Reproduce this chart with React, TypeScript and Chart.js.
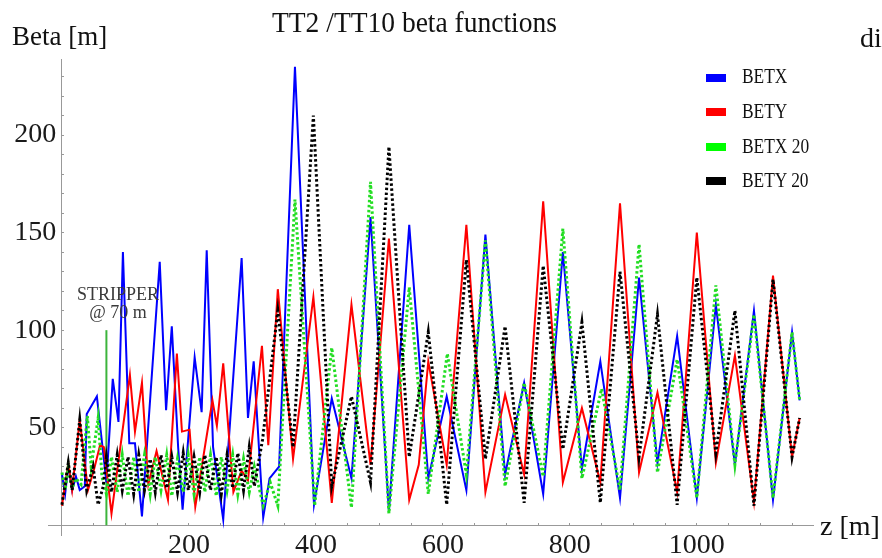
import React, { useEffect, useRef } from 'react';
import { Chart, registerables } from 'chart.js';

Chart.register(...registerables);

// ---- data (z in metres, beta in metres) ----
const betxZ = [0, 5, 10, 16, 22, 28, 36, 39, 55, 70, 80, 89, 96, 106, 115, 126, 154, 164, 173, 183, 190, 209, 220, 228, 238, 254, 283, 293, 302, 317, 327, 342, 367,
  397, 425, 456, 486, 515, 547, 577, 606, 637, 667, 698, 728, 758, 789, 819, 848, 879, 909, 938, 969, 1000, 1030, 1060, 1090, 1120, 1150, 1162];
const betxV = [26, 16, 31, 18, 25, 18, 20, 57, 66, 22, 75, 53, 140, 42, 42, 4.5, 135, 59, 102, 40, 8, 86, 58, 141, 40, 3, 137, 55, 84, 4, 24, 30, 235,
  10.5, 65, 24, 158, 7, 154, 24, 66, 18, 149, 26, 73, 16, 140, 29, 84, 14, 127, 32, 97, 14, 113, 31, 110, 13, 99, 64];

const betyZ = [0, 10, 16, 28, 41, 50, 60, 66, 78, 107, 115, 126, 136, 149, 167, 181, 189, 201, 210, 237, 244, 254, 270, 283, 293, 315, 325, 340, 364,
  396, 425, 456, 486, 515, 547, 562, 577, 606, 637, 667, 698, 728, 758, 789, 819, 848, 879, 909, 938, 969, 1000, 1030, 1060, 1090, 1120, 1150, 1162];
const betyV = [10, 32, 18, 54, 18, 28, 41, 40, 6, 77, 48, 73, 21, 38, 13, 88, 48, 49, 9.5, 64, 51, 83, 17, 28, 23, 92, 41, 121, 34,
  117, 11.5, 113, 31, 147, 13, 31, 84, 31, 154, 17, 67, 26, 166, 22, 60, 22, 165, 27, 68, 17, 150, 32, 87, 12, 128, 35, 55];

const betx20Z = [0, 5, 10, 16, 22, 30, 40, 46, 57, 63,
  70, 78, 87, 95, 104, 113, 121, 130, 139, 147, 156, 165, 173, 182, 191, 199, 208, 217, 225, 234, 243, 251, 260, 269, 277, 286, 295, 303,
  317, 328, 340, 367,
  398, 425, 456, 486, 515, 547, 577, 607, 637, 667, 698, 728, 758, 789, 819, 850, 879, 909, 938, 969, 1000, 1030, 1060, 1090, 1120, 1150, 1162];
const betx20V = [27, 18, 30, 19, 24, 21, 56, 30, 55, 25,
  16, 35, 17, 36, 15, 35, 17, 36, 16, 35, 18, 36, 15, 34, 17, 36, 16, 35, 17, 36, 15, 35, 18, 36, 16, 34, 17, 30,
  10, 22, 10, 167,
  10, 91, 9, 176, 6, 122, 16, 88, 26, 146, 20, 73, 25, 152, 24, 70, 18, 144, 27, 85, 14, 123, 31, 108, 14, 99, 64];

const bety20Z = [0, 10, 16, 28, 39, 49, 57, 65,
  70, 78, 87, 95, 104, 113, 121, 130, 139, 147, 156, 165, 173, 182, 191, 199, 208, 217, 225, 234, 243, 251, 260, 269, 277, 286, 295, 303,
  316, 340, 364,
  396, 425, 456, 486, 515, 547, 577, 606, 637, 667, 698, 728, 758, 789, 819, 848, 879, 909, 938, 969, 1000, 1030, 1060, 1090, 1120, 1150, 1162];
const bety20V = [10.5, 32, 18, 54, 18, 30, 10.5, 20,
  35, 17, 36, 18, 35, 16, 36, 18, 34, 17, 36, 19, 35, 17, 37, 18, 35, 17, 36, 18, 35, 16, 36, 19, 37, 18, 40, 20,
  44, 110, 40,
  210, 20, 66, 22, 194, 35, 99, 10.5, 136, 34, 102, 11.5, 133, 39, 104, 11.5, 130, 35, 108, 10.5, 127, 37, 110, 10, 126, 35, 55];

const stripperZ = [70, 70];
const stripperV = [0, 100];

const xTickValues = [50, 100, 150, 200, 250, 300, 350, 400, 450, 500, 550, 600, 650, 700, 750, 800, 850, 900, 950, 1000, 1050, 1100, 1150];
const xLabelValues = [200, 400, 600, 800, 1000];
const yTickValues = [10, 20, 30, 40, 50, 60, 70, 80, 90, 100, 110, 120, 130, 140, 150, 160, 170, 180, 190, 200, 210, 220, 230];
const yLabelValues = [50, 100, 150, 200];

const seriesNames = ['BETX', 'BETY', 'BETX 20', 'BETY 20'];
const seriesColors = ['#0000ff', '#ff0000', '#22dd22', '#000000'];
const legendSwatchColors = ['#0000ff', '#ff0000', '#00ff00', '#000000'];

const titleText = 'TT2 /TT10 beta functions';
const yAxisTitle = 'Beta [m]';
const xAxisTitle = 'z [m]';
const stripperLine1 = 'STRIPPER';
const stripperLine2 = '@ 70 m';
const cutText = 'di';

const serif = "'Liberation Serif', 'Times New Roman', serif";

function pts(z: number[], v: number[]) {
  const n = Math.min(z.length, v.length);
  const out: { x: number; y: number }[] = [];
  for (let i = 0; i < n; i++) out.push({ x: z[i], y: v[i] });
  return out;
}

export default function App() {
  const ref = useRef<HTMLCanvasElement | null>(null);

  useEffect(() => {
    if (!ref.current) return;
    const chart = new Chart(ref.current, {
      type: 'line',
      data: {
        datasets: [
          {
            label: seriesNames[0], data: pts(betxZ, betxV), borderColor: seriesColors[0],
            borderWidth: 2, pointRadius: 0, tension: 0, order: 4,
          },
          {
            label: seriesNames[1], data: pts(betyZ, betyV), borderColor: seriesColors[1],
            borderWidth: 2, pointRadius: 0, tension: 0, order: 3,
          },
          {
            label: seriesNames[2], data: pts(betx20Z, betx20V), borderColor: seriesColors[2],
            borderWidth: 3, borderDash: [2.5, 2.5], pointRadius: 0, tension: 0, order: 2,
          },
          {
            label: seriesNames[3], data: pts(bety20Z, bety20V), borderColor: seriesColors[3],
            borderWidth: 3, borderDash: [2.5, 2.5], pointRadius: 0, tension: 0, order: 1,
          },
          {
            label: 'stripper', data: pts(stripperZ, stripperV), borderColor: '#3cb43c',
            borderWidth: 2, pointRadius: 0, order: 5,
          },
        ],
      },
      options: {
        responsive: false,
        animation: false,
        devicePixelRatio: 1,
        layout: { padding: { left: 48, right: 69, top: 59, bottom: 23 } },
        plugins: { legend: { display: false }, title: { display: false }, tooltip: { enabled: false } },
        scales: {
          x: {
            type: 'linear',
            min: -22,
            max: 1183,
            position: { y: 0 } as any,
            afterBuildTicks: (scale: any) => { scale.ticks = xTickValues.map((v) => ({ value: v })); },
            grid: { drawOnChartArea: false, drawTicks: true, tickLength: -3, color: '#999999', tickColor: '#999999' },
            border: { display: true, color: '#999999', width: 1 },
            ticks: {
              autoSkip: false, maxRotation: 0, padding: 9, color: '#1a1a1a',
              font: { family: serif, size: 28, lineHeight: 1 },
              callback: (v: any) => (xLabelValues.includes(Number(v)) ? String(v) : ''),
            },
          },
          y: {
            type: 'linear',
            min: -5,
            max: 239,
            position: { x: 0 } as any,
            afterBuildTicks: (scale: any) => { scale.ticks = yTickValues.map((v) => ({ value: v })); },
            grid: { drawOnChartArea: false, drawTicks: true, tickLength: -3, color: '#999999', tickColor: '#999999' },
            border: { display: true, color: '#999999', width: 1 },
            ticks: {
              autoSkip: false, padding: 2, color: '#1a1a1a',
              font: { family: serif, size: 28, lineHeight: 1 },
              callback: (v: any) => (yLabelValues.includes(Number(v)) ? String(v) + '\u2009' : ''),
            },
          },
        },
      },
    } as any);
    return () => chart.destroy();
  }, []);

  const textBase: React.CSSProperties = {
    position: 'absolute', fontFamily: serif, whiteSpace: 'nowrap', color: '#111', margin: 0,
  };

  return (
    <div style={{ position: 'fixed', left: 0, top: 0, width: 882, height: 558, background: '#ffffff', overflow: 'hidden' }}>
      <canvas ref={ref} width={882} height={558} style={{ position: 'absolute', left: 0, top: 0, width: 882, height: 558 }} />
      <div style={{ ...textBase, left: 272, top: 7, fontSize: 30, lineHeight: '30px', transform: 'scaleX(0.917)', transformOrigin: 'left top' }}>{titleText}</div>
      <div style={{ ...textBase, left: 12, top: 23, fontSize: 27, lineHeight: '27px' }}>{yAxisTitle}</div>
      <div style={{ ...textBase, left: 820, top: 512, fontSize: 28, lineHeight: '28px' }}>{xAxisTitle}</div>
      <div style={{ ...textBase, left: 860, top: 24, fontSize: 28, lineHeight: '28px' }}>{cutText}</div>
      <div style={{ ...textBase, left: 68, width: 100, textAlign: 'center', top: 285, fontSize: 18, lineHeight: '18px', color: '#3a3a3a' }}>{stripperLine1}</div>
      <div style={{ ...textBase, left: 68, width: 100, textAlign: 'center', top: 303, fontSize: 18, lineHeight: '18px', color: '#3a3a3a' }}>{stripperLine2}</div>
      {seriesNames.map((name, i) => (
        <React.Fragment key={name}>
          <div style={{ position: 'absolute', left: 706, top: 74 + i * 34.4, width: 20, height: 8, background: legendSwatchColors[i] }} />
          <div style={{ ...textBase, left: 742, top: 66.3 + i * 34.6, fontSize: 20, lineHeight: '20px', transform: 'scaleX(0.87)', transformOrigin: 'left top' }}>{name}</div>
        </React.Fragment>
      ))}
    </div>
  );
}
